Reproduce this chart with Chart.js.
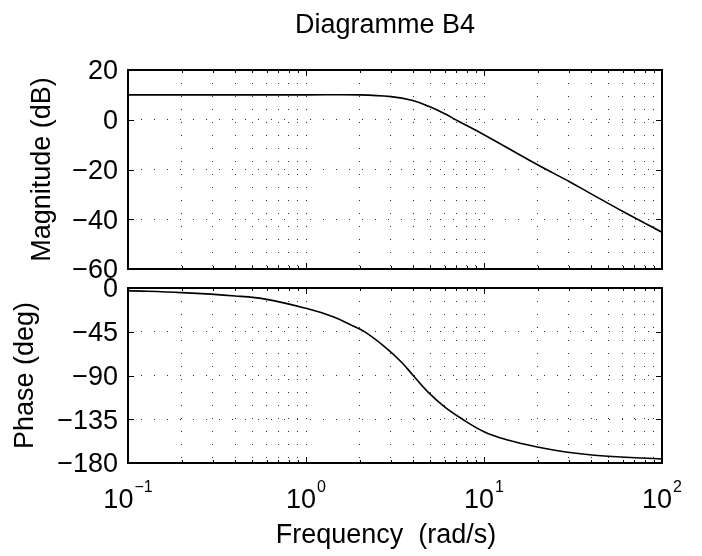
<!DOCTYPE html>
<html>
<head>
<meta charset="utf-8">
<script src="https://cdn.jsdelivr.net/npm/chart.js@4/dist/chart.umd.min.js"></script>
<style>
  body { margin: 0; background: #fff; }
  #wrap { position: relative; width: 702px; height: 556px; }
  canvas { position: absolute; left: 0; }
  #magCanvas { top: 0; }
  #phaseCanvas { top: 255px; }
</style>
</head>
<body>
<div id="wrap">
  <canvas id="magCanvas" width="702" height="305" style="width:702px;height:305px"></canvas>
  <canvas id="phaseCanvas" width="702" height="301" style="width:702px;height:301px"></canvas>
</div>
<script>
// values
var magFreq  = [0.1, 0.5, 1, 2, 3, 3.98, 4.93, 5.98, 7.1, 10, 20, 30.4, 40, 60.7, 100];
var magDb    = [10, 10, 10, 10, 9.3, 7.7, 5.3, 2.5, -0.4, -6.0, -18.1, -25.0, -29.8, -37.0, -45.2];

var phaseFreq = [0.1, 0.2, 0.4, 0.6, 1, 1.42, 1.79, 2.13, 2.76, 3.42, 3.98, 4.82, 5.98, 7.43, 10, 13.6, 19.6, 29.5, 47.4, 100];
var phaseDeg  = [-2.7, -4.8, -8.2, -11.7, -20.9, -29.5, -38, -44.9, -60.3, -75.8, -89.5, -106.6, -122, -134, -147.8, -156.3, -163.2, -169, -172.8, -175.9];

var decadeTicks = [0.1, 1, 10, 100];
var decadeExps  = ['\u22121', '0', '1', '2'];

var gridFreq = [];
[0.1, 1, 10].forEach(function (d) {
  for (var k = 1; k <= 9; k++) gridFreq.push(+(k * d).toFixed(2));
});
gridFreq.push(100);

var FONT = '"Liberation Sans", Arial, Helvetica, sans-serif';
var dotColor = '#333';

function pts(xs, ys) {
  return xs.map(function (x, i) { return { x: x, y: ys[i] }; });
}

function line(ctx, x1, y1, x2, y2) {
  ctx.beginPath(); ctx.moveTo(x1, y1); ctx.lineTo(x2, y2); ctx.stroke();
}

var bodeFrame = {
  id: 'bodeFrame',
  afterDraw: function (chart) {
    var ctx = chart.ctx, a = chart.chartArea, sx = chart.scales.x, sy = chart.scales.y;
    ctx.save();
    ctx.strokeStyle = '#000';
    ctx.lineWidth = 1;
    gridFreq.forEach(function (v) {
      var x = Math.round(sx.getPixelForValue(v)) + 0.5;
      var len = decadeTicks.indexOf(v) >= 0 ? 6 : 3;
      line(ctx, x, a.top, x, a.top + len);
      line(ctx, x, a.bottom, x, a.bottom - len);
    });
    sy.ticks.forEach(function (t) {
      var y = Math.round(sy.getPixelForValue(t.value)) + 0.5;
      line(ctx, a.left, y, a.left + 6, y);
      line(ctx, a.right, y, a.right - 6, y);
    });
    ctx.lineWidth = 2;
    ctx.strokeRect(a.left, a.top, a.right - a.left, a.bottom - a.top);

    ctx.fillStyle = '#000';
    ctx.textBaseline = 'alphabetic';
    if (chart.canvas.id === 'magCanvas') {
      ctx.font = '27px ' + FONT;
      ctx.textAlign = 'center';
      ctx.fillText('Diagramme B4', 385, 33);
    } else {
      // x tick labels with exponents (page y 508 / 492)
      decadeTicks.forEach(function (v, i) {
        var cx = sx.getPixelForValue(v);
        ctx.font = '27px ' + FONT;
        var wBase = ctx.measureText('10').width;
        ctx.font = '16px ' + FONT;
        var wExp = ctx.measureText(decadeExps[i]).width;
        var x0 = cx - (wBase + 1 + wExp) / 2;
        ctx.textAlign = 'left';
        ctx.font = '27px ' + FONT;
        ctx.fillText('10', x0, 253);
        ctx.font = '16px ' + FONT;
        ctx.fillText(decadeExps[i], x0 + wBase + 1, 237);
      });
      ctx.font = '27px ' + FONT;
      ctx.textAlign = 'center';
      ctx.fillText('Frequency  (rad/s)', 386, 288);
    }
    ctx.restore();
  }
};

function makeChart(id, xs, ys, yMin, yMax, yStep, yTitle, titlePad, pad) {
  return new Chart(document.getElementById(id), {
    type: 'line',
    data: {
      datasets: [{
        data: pts(xs, ys),
        borderColor: '#000',
        borderWidth: 1.6,
        pointRadius: 0,
        fill: false,
        tension: 0.4
      }]
    },
    options: {
      responsive: false,
      animation: false,
      layout: { padding: pad },
      plugins: { legend: { display: false }, tooltip: { enabled: false } },
      scales: {
        x: {
          type: 'logarithmic',
          min: 0.1,
          max: 100,
          afterBuildTicks: function (s) { s.ticks = gridFreq.map(function (v) { return { value: v }; }); },
          afterFit: function (s) { s.height = 0; },
          ticks: { display: false, autoSkip: false },
          grid: { color: dotColor, lineWidth: 1, drawTicks: false },
          border: { display: false, dash: [1, 12] }
        },
        y: {
          min: yMin,
          max: yMax,
          afterFit: function (s) { s.width = 128; },
          ticks: {
            stepSize: yStep,
            padding: 10,
            labelOffset: 2,
            color: '#000',
            font: { family: FONT, size: 27 },
            callback: function (v) { return v < 0 ? '\u2212' + Math.abs(v) : String(v); }
          },
          grid: { color: dotColor, lineWidth: 1, drawTicks: false },
          border: { display: false, dash: [1, 12] },
          title: {
            display: true,
            text: yTitle,
            color: '#000',
            font: { family: FONT, size: 27, lineHeight: 1.2 },
            padding: { top: titlePad, bottom: 0 }
          }
        }
      }
    },
    plugins: [bodeFrame]
  });
}

// chart areas: magnitude y 70..269, phase y 288..463, both x 128..662
makeChart('magCanvas', magFreq, magDb, -60, 20, 20, 'Magnitude (dB)', 26,
  { left: 0, top: 70, right: 40, bottom: 36 });
makeChart('phaseCanvas', phaseFreq, phaseDeg, -180, 0, 45, 'Phase (deg)', 9,
  { left: 0, top: 33, right: 40, bottom: 93 });
</script>
</body>
</html>
